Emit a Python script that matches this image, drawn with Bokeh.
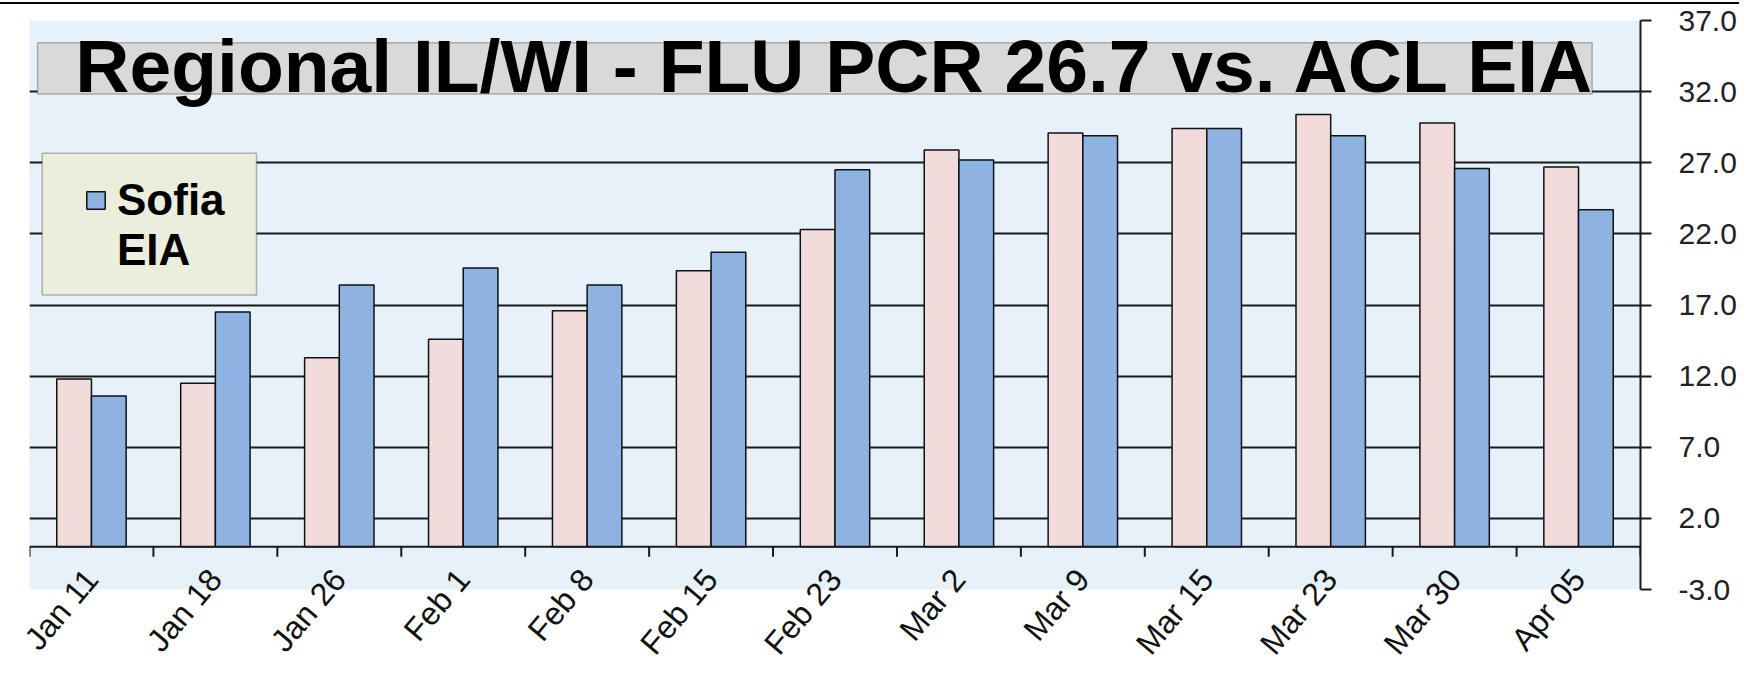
from bokeh.plotting import figure
from bokeh.models import (Range1d, FixedTicker, PrintfTickFormatter, Span, Label,
                          BoxAnnotation, Legend, LegendItem, ColumnDataSource)
from bokeh.embed import file_html
from bokeh.resources import INLINE

# ---------------- data ----------------
categories = ["Jan 11", "Jan 18", "Jan 26", "Feb 1", "Feb 8", "Feb 15", "Feb 23",
              "Mar 2", "Mar 9", "Mar 15", "Mar 23", "Mar 30", "Apr 05"]
flu_pcr = [11.8, 11.5, 13.3, 14.6, 16.6, 19.4, 22.3, 27.9, 29.1, 29.4, 30.4, 29.8, 26.7]
sofia_eia = [10.6, 16.5, 18.4, 19.6, 18.4, 20.7, 26.5, 27.2, 28.9, 29.4, 28.9, 26.6, 23.7]
y_ticks = [-3.0, 2.0, 7.0, 12.0, 17.0, 22.0, 27.0, 32.0, 37.0]
title_text = "Regional IL/WI -  FLU PCR 26.7 vs. ACL EIA"
legend_lines = ["Sofia", "EIA"]

# ---------------- layout ----------------
n = len(categories)
bar_w = 0.28
centers = [i + 0.5 for i in range(n)]
src = ColumnDataSource(dict(
    xp=[c - bar_w / 2 for c in centers],
    xs=[c + bar_w / 2 for c in centers],
    pcr=flu_pcr, sofia=sofia_eia, cat=categories))

FONT = "Liberation Sans"
BG = "#E7F1F9"
DARK = "#1a1a1a"

p = figure(x_range=Range1d(0, n), y_range=Range1d(y_ticks[0], y_ticks[-1]),
           frame_width=1611, frame_height=569,
           y_axis_location="right", output_backend="svg", toolbar_location=None,
           background_fill_color=BG, border_fill_color="white",
           min_border_left=29, min_border_top=16, min_border_right=10,
           min_border_bottom=10,
           outline_line_color=None)
p.styles = {"border-top": "2px solid black", "margin-top": "2px"}

# grid
p.xgrid.visible = False
p.ygrid.ticker = FixedTicker(ticks=y_ticks)
p.ygrid.grid_line_color = DARK
p.ygrid.grid_line_width = 2

# y axis (right)
ya = p.yaxis[0]
ya.ticker = FixedTicker(ticks=y_ticks, minor_ticks=[])
ya.formatter = PrintfTickFormatter(format="%.1f")
ya.major_tick_out = 11
ya.major_tick_in = 0
ya.major_tick_line_width = 2
ya.major_tick_line_color = DARK
ya.axis_line_width = 2
ya.axis_line_color = DARK
ya.major_label_text_font = FONT
ya.major_label_text_font_size = "30px"
ya.major_label_text_color = "#222222"
ya.major_label_standoff = 27

# x axis (labels only)
xa = p.xaxis[0]
xa.ticker = FixedTicker(ticks=centers, minor_ticks=[])
xa.major_label_overrides = {c: lab for c, lab in zip(centers, categories)}
xa.major_tick_line_color = None
xa.minor_tick_line_color = None
xa.axis_line_color = None
xa.major_label_orientation = 0.87
xa.major_label_text_font = FONT
xa.major_label_text_font_size = "32px"
xa.major_label_text_color = "#111111"
xa.major_label_standoff = -22

# bars
r_pcr = p.vbar(x="xp", top="pcr", width=bar_w, bottom=0, source=src,
               fill_color="#F2DCDB", line_color="#111111", line_width=1.5)
r_sofia = p.vbar(x="xs", top="sofia", width=bar_w, bottom=0, source=src,
                 fill_color="#8DB3E2", line_color="#111111", line_width=1.5)
# invisible companion renderer: carries the legend's second text line
r_blank = p.vbar(x=[], top=[], width=bar_w, fill_alpha=0, line_alpha=0)

# category axis at zero with boundary ticks
p.add_layout(Span(location=0, dimension="width", line_color=DARK, line_width=2))
bounds = list(range(n + 1))
p.segment(x0=bounds, y0=[0] * len(bounds), x1=bounds, y1=[-0.7] * len(bounds),
          line_color=DARK, line_width=2)

# title box
box_bottom, box_top = 31.83, 35.44
p.add_layout(BoxAnnotation(left=0.065, right=12.61, bottom=box_bottom, top=box_top,
                           fill_color="#D9D9D9", fill_alpha=1.0,
                           line_color="#222222", line_width=1.5, level="annotation"))
p.add_layout(Label(x=0.37, y=(box_bottom + box_top) / 2 + 0.15, text=title_text,
                   text_font=FONT, text_font_style="bold", text_font_size="75px",
                   text_color="black", text_baseline="middle", level="annotation"))

# legend box + legend
p.add_layout(BoxAnnotation(left=0.1025, right=1.832, bottom=17.70, top=27.665,
                           fill_color="#EBEEDC", fill_alpha=1.0,
                           line_color="#222222", line_width=1.5, level="annotation"))
legend = Legend(items=[LegendItem(label=legend_lines[0], renderers=[r_sofia]),
                       LegendItem(label=legend_lines[1], renderers=[r_blank])],
                location=(55, 314), orientation="vertical",
                background_fill_alpha=0.0, border_line_color=None,
                label_text_font=FONT, label_text_font_style="bold",
                label_text_font_size="44px", label_text_color="black",
                glyph_width=23, glyph_height=22, label_standoff=10,
                padding=0, spacing=0, margin=0)
p.add_layout(legend)

open("out.html", "w").write(file_html(p, INLINE))
